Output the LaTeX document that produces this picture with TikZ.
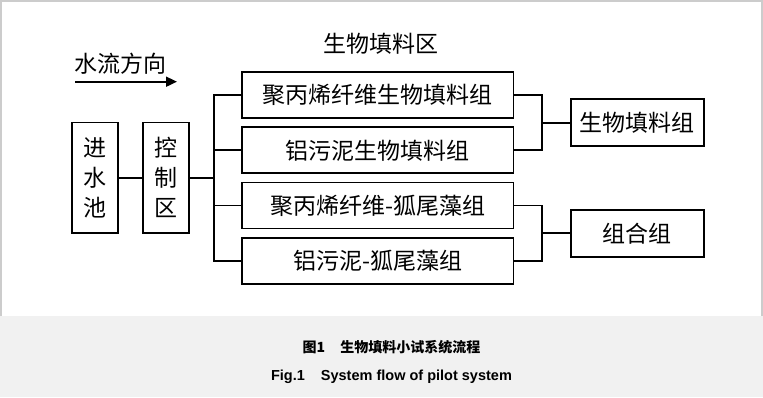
\documentclass[tikz,border=0pt]{standalone}
\usepackage{fontspec}
\setmainfont{Noto Sans CJK SC}
\newfontfamily\capcjk{Noto Sans CJK SC}
\newfontfamily\capen{Liberation Sans}
\usetikzlibrary{arrows.meta}
\begin{document}
\begin{tikzpicture}[x=1pt,y=-1pt,
  every node/.style={inner sep=0pt,outer sep=0pt},
  box/.style={draw,line width=1.8pt,font=\fontsize{23}{30}\selectfont,align=center},
  conn/.style={line width=1.8pt},
  lbl/.style={font=\fontsize{23}{28}\selectfont},
  captext/.style={font=\bfseries\fontsize{14}{16}\selectfont}]
\useasboundingbox (0,0) rectangle (763,397);
\fill[white] (0,0) rectangle (763,316);
\fill[gray!11] (0,316) rectangle (763,397);
\draw[gray!40,line width=1.2pt] (1,316) -- (1,1) -- (762,1) -- (762,316);
% labels
\node[lbl] (flow) at (120,64) {水流方向};
\coordinate (fa) at (75,81.7);
\coordinate (fb) at (177,81.7);
\draw[conn,-{Triangle[length=11pt,width=10pt]}] (fa) -- (fb);
\node[lbl] (zone) at (381,44) {生物填料区};
% left boxes
\node[box,minimum width=46pt,minimum height=110.5pt] (pool) at (95.3,177.8) {进\\水\\池};
\node[box,minimum width=46pt,minimum height=110.5pt] (ctrl) at (166.3,177.8) {控\\制\\区};
% middle boxes
\node[box,minimum width=271.5pt,minimum height=46pt] (b1) at (377.8,95.3) {聚丙烯纤维生物填料组};
\node[box,minimum width=271.5pt,minimum height=46pt] (b2) at (377.8,150.3) {铝污泥生物填料组};
\node[box,minimum width=271.5pt,minimum height=46pt] (b3) at (377.8,205.5) {聚丙烯纤维-狐尾藻组};
\node[box,minimum width=271.5pt,minimum height=46pt] (b4) at (377.8,260.8) {铝污泥-狐尾藻组};
% right boxes
\node[box,minimum width=133.3pt,minimum height=46.7pt] (g1) at (637.3,122.7) {生物填料组};
\node[box,minimum width=133.3pt,minimum height=46.7pt] (g2) at (637.3,233.3) {组合组};
% connectors
\coordinate (split) at (214.3,177.8);
\coordinate (rj1) at (541.7,122.7);
\coordinate (rj2) at (541.7,233.3);
\draw[conn] (pool.east) -- (ctrl.west);
\draw[conn] (ctrl.east) -- (split);
\draw[conn] (b1.west) -| (split) |- (b4.west);
\draw[conn] (b2.west) -- (b2.west -| split);
\draw[conn] (b3.west) -- (b3.west -| split);
\draw[conn] (b1.east) -| (rj1) |- (b2.east);
\draw[conn] (rj1) -- (g1.west);
\draw[conn] (b3.east) -| (rj2) |- (b4.east);
\draw[conn] (rj2) -- (g2.west);
% caption
\node[captext] (cap1) at (391.5,346.7) {\capcjk 图1\hspace{15pt}生物填料小试系统流程};
\node[captext] (cap2) at (391.5,377) {\capen\fontsize{14.5}{16}\selectfont Fig.1\hspace{16pt}System flow of pilot system};
\end{tikzpicture}
\end{document}
